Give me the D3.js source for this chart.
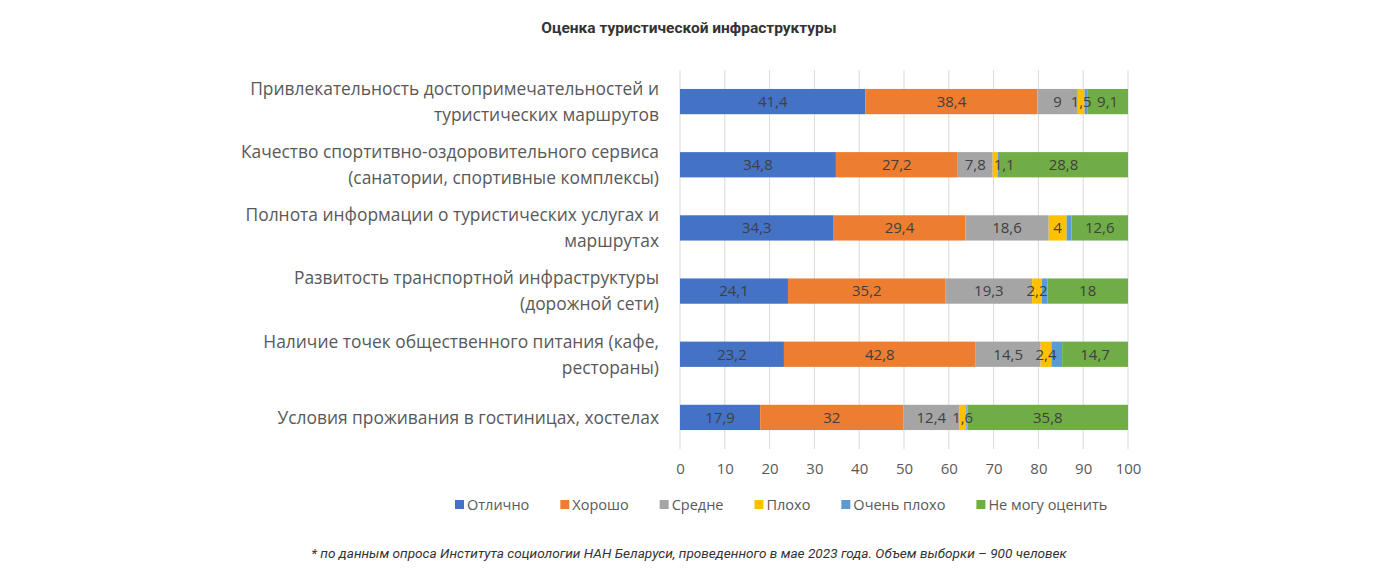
<!DOCTYPE html>
<html>
<head>
<meta charset="utf-8">
<script src="https://cdn.jsdelivr.net/npm/d3@7/dist/d3.min.js"></script>
<style>
    body { margin: 0; background: #fff; }
    svg { display: block; }
</style>
</head>
<body>
<script>
(function() {

    // chart data
    let categories = [
        ["Привлекательность достопримечательностей и", "туристических маршрутов"],
        ["Качество спортитвно-оздоровительного сервиса", "(санатории, спортивные комплексы)"],
        ["Полнота информации о туристических услугах и", "маршрутах"],
        ["Развитость транспортной инфраструктуры", "(дорожной сети)"],
        ["Наличие точек общественного питания (кафе,", "рестораны)"],
        ["Условия проживания в гостиницах, хостелах"]
    ];
    let seriesNames = ["Отлично", "Хорошо", "Средне", "Плохо", "Очень плохо", "Не могу оценить"];
    let excellent = [41.4, 34.8, 34.3, 24.1, 23.2, 17.9];
    let good = [38.4, 27.2, 29.4, 35.2, 42.8, 32];
    let average = [9, 7.8, 18.6, 19.3, 14.5, 12.4];
    let bad = [1.5, 1.1, 4, 2.2, 2.4, 1.6];
    let veryBad = [0.6, 0.3, 1.1, 1.2, 2.4, 0.3];
    let cantSay = [9.1, 28.8, 12.6, 18, 14.7, 35.8];
    let xTicks = [0, 10, 20, 30, 40, 50, 60, 70, 80, 90, 100];
    let colors = ["#4472C4", "#ED7D31", "#A5A5A5", "#FFC000", "#5B9BD5", "#70AD47"];
    let showLabel = [true, true, true, true, false, true];

    let allSeries = [excellent, good, average, bad, veryBad, cantSay];

    window.onload = function () {
        let width = 1379, height = 588;

        var svg = d3.select("body")
            .append("svg")
            .attr("width", width)
            .attr("height", height);

        var x = d3.scaleLinear()
            .domain([0, 100])
            .range([680, 1128]);

        var y = d3.scaleBand()
            .domain(d3.range(categories.length))
            .range([70, 449])
            .paddingInner(0.6)
            .paddingOuter(0.3);

        //title
        svg.append("text")
            .attr("x", 689)
            .attr("y", 33)
            .attr("text-anchor", "middle")
            .style("font-family", "Roboto")
            .style("font-weight", "bold")
            .style("font-size", "15.5px")
            .style("fill", "#333")
            .text("Оценка туристической инфраструктуры");

        //gridlines
        svg.selectAll(".grid")
            .data(xTicks)
            .enter()
            .append("line")
            .attr("x1", function(d){ return x(d); })
            .attr("x2", function(d){ return x(d); })
            .attr("y1", 70)
            .attr("y2", 449)
            .attr("stroke", "#d9d9d9")
            .attr("stroke-width", 1);

        //stack the data
        var rows = categories.map(function(c, i){
            var obj = {};
            seriesNames.forEach(function(s, k){ obj[s] = allSeries[k][i]; });
            obj.index = i;
            return obj;
        });
        var stacked = d3.stack().keys(seriesNames)(rows);

        var layers = svg.selectAll(".layer")
            .data(stacked)
            .enter()
            .append("g")
            .attr("fill", function(d, k){ return colors[k]; });

        layers.selectAll("rect")
            .data(function(d){ return d; })
            .enter()
            .append("rect")
            .attr("x", function(d){ return x(d[0]); })
            .attr("y", function(d){ return y(d.data.index); })
            .attr("width", function(d){ return x(d[1]) - x(d[0]); })
            .attr("height", y.bandwidth());

        //data labels
        stacked.forEach(function(layer, k){
            if (!showLabel[k]) return;
            svg.append("g").selectAll("text")
                .data(layer)
                .enter()
                .append("text")
                .attr("x", function(d){
                    var cx = (x(d[0]) + x(d[1])) / 2;
                    // small label nudged right where it would overlap its neighbour
                    if (k === 3 && d.data.index === 1) cx += 9;
                    return cx;
                })
                .attr("y", function(d){ return y(d.data.index) + y.bandwidth() / 2; })
                .attr("dy", "0.36em")
                .attr("text-anchor", "middle")
                .style("font-family", "Open Sans")
                .style("font-size", "15px")
                .style("fill", "#404040")
                .text(function(d){ return String(+(d[1] - d[0]).toFixed(1)).replace(".", ","); });
        });

        //category labels
        var catG = svg.append("g");
        categories.forEach(function(lines, i){
            var cy = y(i) + y.bandwidth() / 2;
            var t = catG.append("text")
                .attr("text-anchor", "end")
                .style("font-family", "Open Sans")
                .style("font-size", "17.4px")
                .style("fill", "#595959");
            lines.forEach(function(line, j){
                t.append("tspan")
                    .attr("x", 659)
                    .attr("y", cy + (j - (lines.length - 1) / 2) * 26)
                    .attr("dy", "0.36em")
                    .text(line);
            });
        });

        //x axis labels
        svg.append("g")
            .attr("transform", "translate(0,469)")
            .call(d3.axisBottom(x).tickValues(xTicks).tickSize(0).tickPadding(0))
            .call(function(g){ g.select(".domain").remove(); })
            .selectAll("text")
            .attr("dy", "0.36em")
            .attr("y", 0)
            .style("font-family", "Open Sans")
            .style("font-size", "15px")
            .style("fill", "#595959");

        //legend
        var legend = svg.append("g");
        var lx = 455;
        seriesNames.forEach(function(name, k){
            legend.append("rect")
                .attr("x", lx)
                .attr("y", 500)
                .attr("width", 9)
                .attr("height", 9)
                .attr("fill", colors[k]);
            var t = legend.append("text")
                .attr("x", lx + 12)
                .attr("y", 505)
                .attr("dy", "0.36em")
                .style("font-family", "Open Sans")
                .style("font-size", "14.5px")
                .style("fill", "#595959")
                .text(name);
            lx += 12 + t.node().getComputedTextLength() + 31;
        });

        //footnote
        svg.append("text")
            .attr("x", 689)
            .attr("y", 558)
            .attr("text-anchor", "middle")
            .style("font-family", "Roboto")
            .style("font-style", "italic")
            .style("font-size", "13.6px")
            .style("fill", "#333")
            .text("* по данным опроса Института социологии НАН Беларуси, проведенного в мае 2023 года. Объем выборки – 900 человек");
    };

})();
</script>
</body>
</html>
